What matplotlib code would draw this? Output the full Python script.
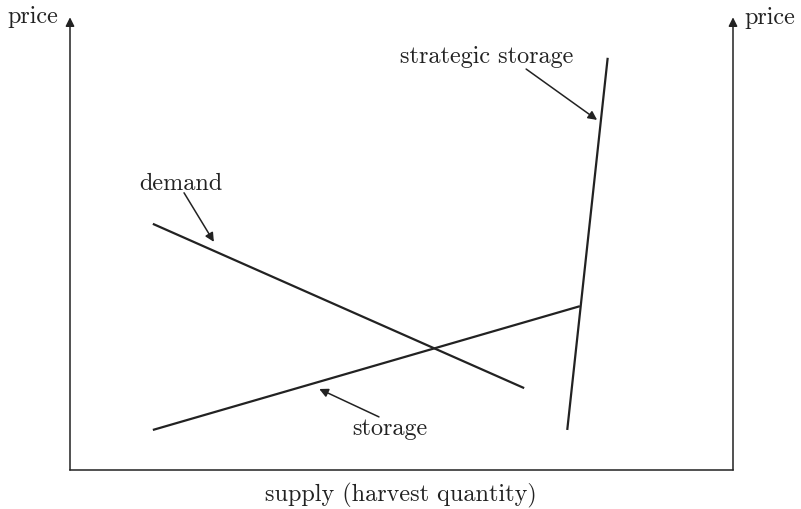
import matplotlib
matplotlib.use("Agg")
import matplotlib.pyplot as plt

# Schematic data in arbitrary units (quantity 0..100, price 0..100)
demand_x = [12.5, 68.5]
demand_y = [54.7, 18.2]
storage_x = [12.5, 76.9]
storage_y = [8.9, 36.4]
strategic_x = [75.0, 81.1]
strategic_y = [8.9, 91.6]

# annotation labels: (text, text position, arrow tail, arrow head)
labels = ["demand", "strategic storage", "storage"]
label_pos = [(16.7, 62.2), (62.9, 90.5), (48.3, 7.8)]
arrow_tail = [(17.2, 61.6), (68.8, 89.1), (46.6, 11.8)]
arrow_head = [(21.7, 50.7), (79.5, 77.8), (37.6, 18.0)]

axis_label_x = "supply (harvest quantity)"
axis_label_y = "price"

plt.rcParams['font.family'] = ['cmr10', 'DejaVu Serif']
plt.rcParams['axes.formatter.use_mathtext'] = True

W, H = 801, 509
fig = plt.figure(figsize=(W / 100, H / 100), dpi=100)
ax = fig.add_axes([70 / W, (H - 470) / H, 663 / W, 450 / H])
ax.set_xlim(0, 100)
ax.set_ylim(0, 100)
ax.axis('off')

col = '#222222'
ax.plot(demand_x, demand_y, color=col, lw=1.6, solid_capstyle='butt')
ax.plot(storage_x, storage_y, color=col, lw=1.6, solid_capstyle='butt')
ax.plot(strategic_x, strategic_y, color=col, lw=1.6, solid_capstyle='butt')

# axes lines
ax.plot([0, 100], [0, 0], color=col, lw=1.1, clip_on=False)
for xx in (0, 100):
    ax.annotate("", xy=(xx, 100.6), xytext=(xx, 0), annotation_clip=False,
                arrowprops=dict(arrowstyle='-|>', color=col, lw=1.1,
                                mutation_scale=13, shrinkA=0, shrinkB=0))

fs = 17.4
for lab, p, t, h in zip(labels, label_pos, arrow_tail, arrow_head):
    ax.text(p[0], p[1], lab, ha='center', va='baseline', fontsize=fs, color=col)
    ax.annotate("", xy=h, xytext=t,
                arrowprops=dict(arrowstyle='-|>', color=col, lw=1.1,
                                mutation_scale=13, shrinkA=0, shrinkB=0))

fig.text(32.5 / W, 1 - 23 / H, axis_label_y, ha='center', va='baseline', fontsize=fs, color=col)
fig.text(770 / W, 1 - 24 / H, axis_label_y, ha='center', va='baseline', fontsize=fs, color=col)
fig.text(401 / W, 1 - 501 / H, axis_label_x, ha='center', va='baseline', fontsize=fs, color=col)

fig.savefig("out.png", dpi=100)
